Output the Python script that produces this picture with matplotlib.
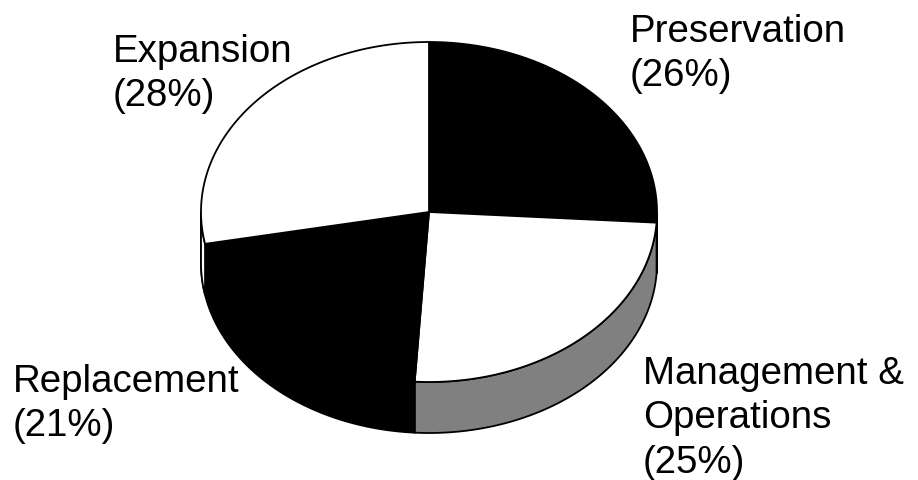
import numpy as np
import matplotlib
matplotlib.use('Agg')
import matplotlib.pyplot as plt
from matplotlib.patches import Polygon

# data
categories = ['Preservation', 'Management &\nOperations', 'Replacement', 'Expansion']
shares = [26, 25, 21, 28]
top_colors = ['black', 'white', 'black', 'white']
side_colors = ['black', '#808080', 'black', 'white']

# label placement (left x, first baseline y) in pixels
label_pos = [(630, 42), (643, 384), (13, 392), (113, 62)]

# pie geometry (pixels)
cx, cy = 429, 212
rx, ry = 228, 170
depth = 51

plt.rcParams['font.family'] = ['Liberation Sans', 'DejaVu Sans']

fig = plt.figure(figsize=(9.18, 4.8), dpi=100)
ax = fig.add_axes([0, 0, 1, 1])
ax.set_xlim(0, 918)
ax.set_ylim(480, 0)
ax.axis('off')


def arc(t0, t1, dy=0, n=200):
    t = np.radians(np.linspace(t0, t1, n))
    return np.column_stack([cx + rx * np.cos(t), cy - ry * np.sin(t) + dy])


# wedge angle ranges, clockwise from 12 o'clock
bounds = []
start = 90.0
for s in shares:
    end = start - 360.0 * s / sum(shares)
    bounds.append((start, end))
    start = end

# sides (front half only: angles between 180 and 360, i.e. -180..0)
for (a0, a1), col in zip(bounds, side_colors):
    hi, lo = a0, a1
    # bring into -270..90 range for comparisons
    lo_c = max(lo, -180)
    hi_c = min(hi, 0)
    if lo_c < hi_c:
        top = arc(hi_c, lo_c)
        bot = arc(lo_c, hi_c, depth)
        ax.add_patch(Polygon(np.vstack([top, bot]), closed=True,
                             facecolor=col, edgecolor='black', lw=1.3, zorder=1))
    # the wedge may wrap past -180 -> 180 side (left edge sliver)
    lo2, hi2 = max(lo + 360, 180), min(hi + 360, 360)
    if lo2 < hi2 and lo < -180:
        top = arc(hi2, lo2)
        bot = arc(lo2, hi2, depth)
        ax.add_patch(Polygon(np.vstack([top, bot]), closed=True,
                             facecolor=col, edgecolor='black', lw=1.3, zorder=1))

# top faces
for (a0, a1), col in zip(bounds, top_colors):
    pts = np.vstack([[cx, cy], arc(a0, a1)])
    ax.add_patch(Polygon(pts, closed=True, facecolor=col,
                         edgecolor='black', lw=1.3, zorder=2))

# labels
for name, s, (x, y) in zip(categories, shares, label_pos):
    lines = name.split('\n') + [f'({s}%)']
    for i, line in enumerate(lines):
        ax.text(x, y + i * 44.5, line, fontsize=27.7, ha='left',
                va='baseline', color='black')

fig.savefig('out.png', dpi=100)
